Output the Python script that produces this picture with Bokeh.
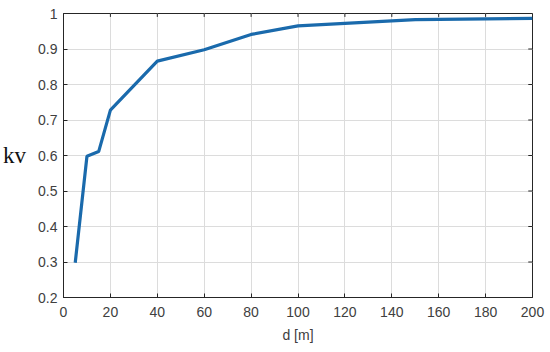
from bokeh.plotting import figure
from bokeh.models import Range1d, FixedTicker
from bokeh.embed import file_html
from bokeh.resources import INLINE

# data
d_m = [5, 10, 15, 20, 40, 60, 80, 100, 150, 200]
kv = [0.298, 0.598, 0.611, 0.728, 0.866, 0.898, 0.941, 0.965, 0.983, 0.986]
x_ticks = [0, 20, 40, 60, 80, 100, 120, 140, 160, 180, 200]
y_ticks = [0.2, 0.3, 0.4, 0.5, 0.6, 0.7, 0.8, 0.9, 1.0]
y_label = "kv"

AX = "#262626"
LBL = "#404040"
X0, X1, Y0, Y1 = 0, 200, 0.2, 1.0

p = figure(width=545, height=348, output_backend="svg", toolbar_location=None,
           x_range=Range1d(X0, X1), y_range=Range1d(Y0, Y1),
           min_border_left=62, min_border_right=13, min_border_top=13, min_border_bottom=51)
p.outline_line_color = AX
p.outline_line_width = 1
p.background_fill_color = "white"
p.border_fill_color = "white"

p.line(d_m, kv, line_color="#1a6aac", line_width=3.2)

# inward ticks on the top and right edges (MATLAB box style)
tick_dy = (Y1 - Y0) * 0.012
tick_dx = (X1 - X0) * 0.009
p.segment(x0=x_ticks, y0=[Y1] * len(x_ticks), x1=x_ticks, y1=[Y1 - tick_dy] * len(x_ticks),
          line_color=AX, line_width=1)
p.segment(x0=[X1] * len(y_ticks), y0=y_ticks, x1=[X1 - tick_dx] * len(y_ticks), y1=y_ticks,
          line_color=AX, line_width=1)

for ax in (p.xaxis, p.yaxis):
    ax.axis_line_color = AX
    ax.major_tick_line_color = AX
    ax.major_tick_in = 4
    ax.major_tick_out = 0
    ax.minor_tick_line_color = None
    ax.major_label_text_color = LBL
    ax.major_label_text_font = "Liberation Sans"
    ax.major_label_text_font_size = "14px"

p.xaxis.ticker = FixedTicker(ticks=x_ticks)
p.yaxis.ticker = FixedTicker(ticks=y_ticks)
p.yaxis.major_label_overrides = {1.0: "1"}
p.xaxis.major_label_standoff = 9
p.yaxis.major_label_standoff = 6
p.xaxis.axis_label = "d [m]"
p.xaxis.axis_label_text_font = "Liberation Sans"
p.xaxis.axis_label_text_font_style = "normal"
p.xaxis.axis_label_text_font_size = "14px"
p.xaxis.axis_label_text_color = LBL
p.xaxis.axis_label_standoff = 7

p.yaxis.axis_label = y_label
p.yaxis.axis_label_orientation = "horizontal"
p.yaxis.axis_label_text_font = "Liberation Serif"
p.yaxis.axis_label_text_font_style = "normal"
p.yaxis.axis_label_text_font_size = "23px"
p.yaxis.axis_label_text_color = "#111111"
p.yaxis.axis_label_text_baseline = "alphabetic"
p.yaxis.axis_label_standoff = 9

p.grid.grid_line_color = "#dcdcdc"
p.grid.grid_line_width = 1
p.xgrid.ticker = FixedTicker(ticks=x_ticks)
p.ygrid.ticker = FixedTicker(ticks=y_ticks)

open("out.html", "w").write(file_html(p, INLINE))
